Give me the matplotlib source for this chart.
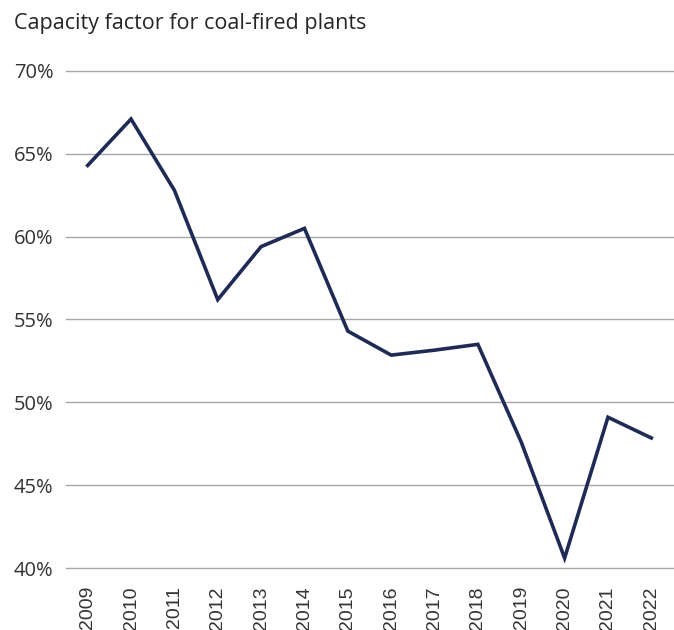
import matplotlib.pyplot as plt
from matplotlib.ticker import FuncFormatter

years = ['2009', '2010', '2011', '2012', '2013', '2014', '2015',
         '2016', '2017', '2018', '2019', '2020', '2021', '2022']
capacity_factor = [64.3, 67.1, 62.8, 56.2, 59.4, 60.5, 54.3,
                   52.85, 53.15, 53.5, 47.6, 40.6, 49.1, 47.85]
y_ticks = [40, 45, 50, 55, 60, 65, 70]

fig = plt.figure(figsize=(6.74, 6.30), dpi=100)
ax = fig.add_axes([66 / 674, 1 - 568 / 630, 607 / 674, 497 / 630])

x = range(len(years))
ax.plot(x, capacity_factor, color='#1f2a55', linewidth=2.6,
        solid_joinstyle='miter', zorder=3)

ax.set_xlim(-0.5, len(years) - 0.5)
ax.set_ylim(40, 70)
ax.set_yticks(y_ticks)
ax.yaxis.set_major_formatter(FuncFormatter(lambda v, _: f'{v:.0f}%'))
ax.set_xticks(list(x))
ax.set_xticklabels(years, rotation=90, family='Liberation Sans',
                   fontsize=14, color='#333333')
for lbl in ax.get_yticklabels():
    lbl.set_family('Open Sans')
    lbl.set_fontsize(14.5)
    lbl.set_color('#333333')

ax.tick_params(axis='both', length=0)
ax.tick_params(axis='x', pad=13)
ax.tick_params(axis='y', pad=9)
ax.grid(axis='y', color='#a6a6a6', linewidth=1)
for gl in ax.get_ygridlines():
    gl.set_clip_on(False)
ax.set_axisbelow(True)
for s in ax.spines.values():
    s.set_visible(False)

fig.text(14 / 674, 1 - 24 / 630, 'Capacity factor for coal-fired plants',
         family='Open Sans', fontsize=15.5, color='#262626', va='center')

fig.savefig('out.png', dpi=100)
